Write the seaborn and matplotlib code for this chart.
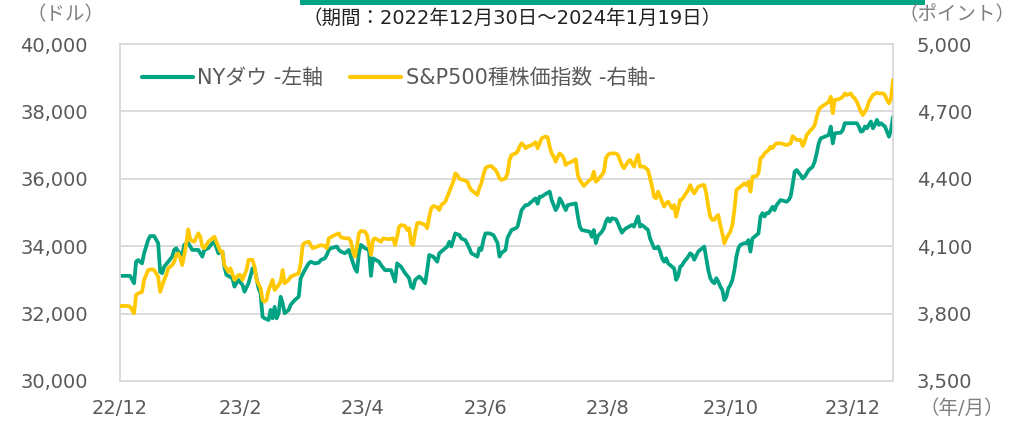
import matplotlib
matplotlib.use("Agg")
import matplotlib.pyplot as plt
from matplotlib.lines import Line2D
from matplotlib.patches import Rectangle
import pandas as pd
import seaborn as sns

# --- data (days since 2022-12-30, index level) ---
START = "2022-12-30"
END = "2024-01-19"

dow_points = [
    (0, 33120), (5, 33120), (7, 32900), (8, 33540), (9, 33590), (11, 33490), (12, 33790), (14, 34180),
    (15, 34300), (17, 34300), (19, 34090), (20, 33240), (21, 33200), (22, 33390), (24, 33540), (26, 33690),
    (27, 33890), (28, 33940), (29, 33840), (31, 33740), (32, 34040), (34, 34090), (36, 33890), (39, 33890),
    (41, 33690), (42, 33890), (44, 33940), (46, 34090), (47, 34130), (49, 33790), (51, 33840), (52, 33390),
    (53, 33150), (56, 33050), (57, 32800), (59, 33000), (61, 32850), (62, 32650), (64, 32900), (66, 33340),
    (67, 33340), (69, 32750), (70, 32600), (71, 31910), (72, 31860), (74, 31810), (75, 32110), (76, 31860),
    (77, 32200), (78, 31860), (79, 32010), (80, 32500), (81, 32310), (82, 32010), (84, 32110), (85, 32260),
    (87, 32400), (89, 32500), (90, 33050), (92, 33290), (94, 33490), (95, 33540), (97, 33490), (99, 33510),
    (100, 33590), (102, 33640), (103, 33740), (104, 33890), (105, 33940), (108, 33990), (109, 33890),
    (110, 33840), (112, 33790), (114, 33890), (115, 33690), (117, 33340), (118, 33240), (119, 33790),
    (120, 34040), (122, 33940), (124, 33890), (125, 33120), (126, 33640), (129, 33540), (130, 33440),
    (132, 33290), (135, 33290), (137, 32950), (138, 33490), (140, 33390), (142, 33200), (144, 33050),
    (145, 32800), (146, 32750), (147, 33000), (149, 33100), (150, 33050), (152, 32900), (153, 33290),
    (154, 33740), (156, 33690), (158, 33540), (159, 33790), (161, 33890), (163, 33990), (164, 34130),
    (165, 33990), (166, 34180), (167, 34380), (169, 34330), (170, 34230), (172, 34180), (174, 33940),
    (175, 33790), (178, 33690), (179, 33940), (180, 33890), (181, 34180), (182, 34380), (184, 34380),
    (186, 34330), (188, 34100), (189, 33690), (190, 33800), (192, 33890), (193, 34250), (195, 34480),
    (197, 34530), (198, 34580), (199, 34830), (200, 35070), (202, 35220), (203, 35220), (205, 35320),
    (207, 35420), (208, 35260), (209, 35470), (210, 35470), (212, 35550), (214, 35620), (215, 35370),
    (217, 35070), (218, 35170), (219, 35420), (220, 35320), (222, 35070), (223, 35220), (227, 35270),
    (228, 34900), (229, 34580), (230, 34480), (234, 34430), (235, 34280), (236, 34480), (237, 34090),
    (238, 34300), (240, 34430), (241, 34530), (242, 34730), (243, 34830), (244, 34730), (245, 34830),
    (247, 34800), (248, 34680), (249, 34530), (250, 34400), (251, 34480), (252, 34530), (255, 34630),
    (256, 34580), (257, 34730), (258, 34880), (259, 34580), (260, 34630), (261, 34580), (263, 34480),
    (264, 34230), (265, 34090), (266, 33940), (267, 33940), (268, 33990), (269, 33840), (270, 33640),
    (271, 33540), (272, 33640), (273, 33490), (274, 33440), (276, 33340), (277, 33000), (278, 33120),
    (279, 33390), (280, 33440), (281, 33540), (283, 33690), (284, 33790), (285, 33740), (286, 33600),
    (288, 33840), (290, 33940), (291, 33990), (292, 33640), (293, 33290), (294, 33050), (295, 32950),
    (296, 32900), (297, 33050), (298, 32950), (299, 32800), (300, 32700), (301, 32400), (302, 32500),
    (303, 32750), (304, 32850), (305, 33000), (306, 33290), (307, 33690), (308, 33940), (309, 34040),
    (311, 34090), (312, 34090), (313, 34180), (314, 33840), (315, 34230), (316, 34280), (318, 34380),
    (319, 34880), (320, 34980), (321, 34880), (322, 34980), (323, 34980), (324, 35070), (325, 35170),
    (326, 35070), (327, 35220), (329, 35370), (332, 35320), (333, 35370), (334, 35470), (335, 35820),
    (336, 36210), (337, 36260), (339, 36110), (340, 36010), (341, 36060), (343, 36260), (345, 36360),
    (346, 36510), (347, 36760), (348, 37050), (349, 37200), (353, 37300), (354, 37550), (355, 37050),
    (356, 37350), (359, 37370), (360, 37450), (361, 37650), (367, 37650), (368, 37550), (369, 37400),
    (370, 37420), (371, 37550), (372, 37500), (373, 37600), (374, 37700), (375, 37500), (376, 37600),
    (377, 37750), (378, 37600), (379, 37650), (380, 37600), (381, 37550), (382, 37400), (383, 37250),
    (384, 37450), (385, 37840),
]

spx_points = [
    (0, 3834), (4, 3834), (5, 3831), (7, 3801), (8, 3883), (9, 3890), (11, 3897), (12, 3950), (14, 3994),
    (16, 3997), (17, 3994), (19, 3964), (20, 3897), (22, 3950), (23, 3972), (24, 4002), (26, 4016),
    (27, 4031), (28, 4061), (29, 4068), (30, 4046), (31, 4016), (32, 4061), (33, 4113), (34, 4175),
    (35, 4128), (37, 4120), (39, 4157), (40, 4142), (41, 4098), (42, 4091), (44, 4120), (46, 4135),
    (47, 4142), (48, 4120), (50, 4076), (51, 4076), (52, 4016), (54, 3986), (55, 4002), (57, 3950),
    (59, 3972), (60, 3972), (61, 3950), (63, 3994), (64, 4039), (66, 4039), (67, 4009), (68, 3950),
    (70, 3913), (71, 3861), (72, 3853), (73, 3861), (74, 3905), (75, 3927), (76, 3950), (77, 3905),
    (79, 3927), (80, 3942), (81, 3994), (82, 3935), (84, 3950), (85, 3964), (87, 3972), (89, 3979),
    (90, 4024), (91, 4105), (92, 4115), (94, 4120), (95, 4105), (96, 4091), (99, 4101), (100, 4105),
    (102, 4101), (103, 4091), (104, 4135), (105, 4140), (107, 4150), (109, 4157), (110, 4140),
    (112, 4135), (114, 4135), (115, 4120), (116, 4076), (117, 4053), (118, 4098), (119, 4157),
    (120, 4168), (122, 4165), (123, 4150), (124, 4105), (125, 4061), (126, 4128), (127, 4135),
    (130, 4120), (131, 4135), (134, 4131), (136, 4135), (137, 4105), (138, 4142), (139, 4187),
    (140, 4194), (142, 4190), (143, 4172), (144, 4180), (145, 4113), (146, 4105), (147, 4160),
    (148, 4202), (149, 4205), (150, 4202), (152, 4194), (153, 4180), (154, 4231), (155, 4269),
    (156, 4279), (158, 4273), (159, 4261), (160, 4283), (162, 4298), (163, 4320), (164, 4343),
    (165, 4365), (166, 4387), (167, 4424), (168, 4417), (169, 4400), (171, 4395), (173, 4387),
    (174, 4365), (175, 4350), (177, 4335), (178, 4328), (179, 4360), (180, 4380), (181, 4417),
    (182, 4447), (183, 4454), (185, 4457), (186, 4447), (187, 4440), (188, 4424), (189, 4402),
    (190, 4395), (192, 4402), (193, 4424), (194, 4484), (195, 4506), (197, 4513), (198, 4521),
    (199, 4543), (200, 4558), (201, 4550), (202, 4536), (203, 4543), (205, 4550), (207, 4563),
    (208, 4536), (209, 4558), (210, 4580), (212, 4588), (213, 4585), (214, 4543), (215, 4513),
    (216, 4498), (217, 4476), (218, 4498), (219, 4513), (220, 4506), (221, 4491), (222, 4461),
    (223, 4469), (225, 4476), (227, 4487), (228, 4417), (229, 4395), (231, 4368), (233, 4387),
    (235, 4402), (236, 4432), (237, 4387), (238, 4395), (240, 4417), (241, 4432), (242, 4491),
    (243, 4506), (244, 4513), (247, 4513), (248, 4506), (249, 4484), (250, 4461), (251, 4447),
    (253, 4476), (254, 4484), (255, 4469), (256, 4454), (257, 4484), (258, 4506), (259, 4454),
    (260, 4454), (261, 4454), (263, 4439), (264, 4402), (265, 4365), (266, 4320), (267, 4313),
    (268, 4343), (269, 4320), (270, 4298), (271, 4276), (272, 4291), (273, 4298), (274, 4283),
    (275, 4269), (276, 4283), (277, 4231), (278, 4269), (279, 4306), (280, 4309), (281, 4323),
    (283, 4350), (284, 4372), (285, 4350), (286, 4335), (287, 4350), (288, 4365), (290, 4372),
    (291, 4372), (292, 4335), (293, 4276), (294, 4231), (295, 4217), (296, 4217), (297, 4231),
    (298, 4239), (299, 4194), (300, 4157), (301, 4113), (302, 4135), (303, 4150), (304, 4165),
    (305, 4194), (306, 4261), (307, 4350), (308, 4358), (310, 4372), (311, 4380), (312, 4372),
    (313, 4387), (314, 4343), (315, 4409), (317, 4412), (318, 4424), (319, 4491), (320, 4498),
    (321, 4513), (323, 4528), (324, 4543), (325, 4536), (326, 4550), (327, 4558), (329, 4558),
    (332, 4550), (334, 4558), (335, 4590), (337, 4573), (339, 4573), (340, 4546), (341, 4565),
    (342, 4595), (344, 4617), (345, 4625), (346, 4639), (347, 4676), (348, 4706), (349, 4718),
    (352, 4736), (353, 4743), (354, 4765), (355, 4692), (356, 4751), (358, 4754), (360, 4765),
    (361, 4780), (362, 4773), (364, 4780), (365, 4765), (366, 4758), (367, 4743), (368, 4721),
    (369, 4699), (370, 4684), (371, 4699), (372, 4714), (373, 4743), (374, 4758), (375, 4773),
    (377, 4783), (378, 4780), (380, 4780), (381, 4773), (382, 4751), (383, 4736), (384, 4758),
    (385, 4840),
]

tick_dates = ["2022-12-30", "2023-02-28", "2023-04-30", "2023-06-30",
              "2023-08-30", "2023-10-30", "2023-12-30"]
tick_labels = ["22/12", "23/2", "23/4", "23/6", "23/8", "23/10", "23/12"]
left_ticks = [30000, 32000, 34000, 36000, 38000, 40000]
right_ticks = [3500, 3800, 4100, 4400, 4700, 5000]

dow_label = "NYダウ -左軸"
spx_label = "S&P500種株価指数 -右軸-"
title = "（期間：2022年12月30日～2024年1月19日）"

GREEN = "#00A383"
YELLOW = "#FFC800"
GRID = "#D9D9D9"
TEXT = "#595959"
UNIT = "#808080"


def to_frame(points):
    df = pd.DataFrame(points, columns=["day", "value"])
    df["date"] = pd.Timestamp(START) + pd.to_timedelta(df["day"], unit="D")
    return df


sns.set_theme(style="white")
plt.rcParams["font.family"] = ["DejaVu Sans", "Noto Sans CJK JP"]

fig = plt.figure(figsize=(10.27, 4.25), dpi=100)
ax = fig.add_axes([120 / 1027, 1 - 381 / 425, 773 / 1027, 337 / 425])
ax2 = ax.twinx()

dow = to_frame(dow_points)
spx = to_frame(spx_points)

sns.lineplot(data=dow, x="date", y="value", ax=ax, color=GREEN, linewidth=2.7, legend=False)
sns.lineplot(data=spx, x="date", y="value", ax=ax2, color=YELLOW, linewidth=2.7, legend=False)

ax.set_xlim(pd.Timestamp(START), pd.Timestamp(END))
ax.set_ylim(left_ticks[0], left_ticks[-1])
ax2.set_ylim(right_ticks[0], right_ticks[-1])

ax.set_yticks(left_ticks)
ax.set_yticklabels([f"{v:,}" for v in left_ticks])
ax2.set_yticks(right_ticks)
ax2.set_yticklabels([f"{v:,}" for v in right_ticks])
ax.set_xticks(pd.to_datetime(tick_dates))
ax.set_xticklabels(tick_labels)

for a in (ax, ax2):
    a.set_xlabel("")
    a.set_ylabel("")

ax.set_axisbelow(True)
ax.yaxis.grid(True, color=GRID, linewidth=1.3)
ax.xaxis.grid(False)
for s in ax.spines.values():
    s.set_color(GRID)
    s.set_linewidth(1.3)
for s in ax2.spines.values():
    s.set_visible(False)

ax.tick_params(axis="y", length=0, pad=23, labelsize=14, labelcolor=TEXT)
ax2.tick_params(axis="y", length=0, pad=17, labelsize=14, labelcolor=TEXT)
ax.tick_params(axis="x", direction="in", length=5, width=1.2, color=GRID,
               pad=13, labelsize=14, labelcolor=TEXT)

handles = [Line2D([], [], color=GREEN, linewidth=3),
           Line2D([], [], color=YELLOW, linewidth=3)]
ax2.legend(handles, [dow_label, spx_label], loc="center left",
           bbox_to_anchor=(22 / 773, (381 - 78) / 337), ncol=2, frameon=False,
           borderpad=0, borderaxespad=0, handlelength=2.45, handletextpad=0.2,
           columnspacing=1.3, prop={"size": 15}, labelcolor=TEXT)

fig.add_artist(Rectangle((300 / 1027, 1 - 5 / 425), 625 / 1027, 5 / 425,
                         transform=fig.transFigure, color=GREEN, linewidth=0))
fig.text(512 / 1027, 1 - 18 / 425, title, ha="center", va="center", fontsize=14, color="#222222")
fig.text(66 / 1027, 1 - 15 / 425, "（ドル）", ha="center", va="center", fontsize=14, color=UNIT)
fig.text(957 / 1027, 1 - 15 / 425, "（ポイント）", ha="center", va="center", fontsize=14, color=UNIT)
fig.text(962 / 1027, 1 - 408 / 425, "（年/月）", ha="center", va="center", fontsize=14, color=UNIT)

fig.savefig("out.png", dpi=100)
plt.close(fig)
